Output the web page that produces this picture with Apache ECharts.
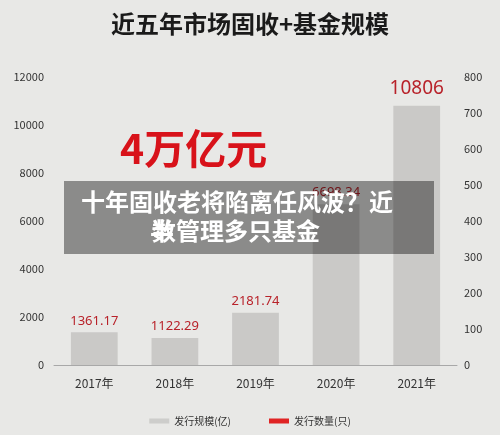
<!DOCTYPE html>
<html>
<head>
<meta charset="utf-8">
<script src="https://cdn.jsdelivr.net/npm/echarts@6/dist/echarts.min.js"></script>
<style>
html,body{margin:0;padding:0;background:#e8e8e6;}
#c{width:500px;height:435px;}
</style>
</head>
<body>
<div id="c"></div>
<script>
const titleText = '近五年市场固收+基金规模';
const categories = ['2017年', '2018年', '2019年', '2020年', '2021年'];
const scaleValues = [1361.17, 1122.29, 2181.74, 6698.34, 10806];
const countValues = [];
const seriesNames = ['发行规模(亿)', '发行数量(只)'];
const bigNote = '4万亿元';
const overlayLine1 = '十年固收老将陷离任风波？近';
const overlayLine2a = '半';
const overlayLine2b = '数';
const overlayLine2c = '管理多只基金';

const FONT = '"Noto Sans CJK SC", "Noto Sans", sans-serif';
const chart = echarts.init(document.getElementById('c'), null, {renderer: 'canvas'});

const barData = scaleValues.map((v, i) => {
  if (i === scaleValues.length - 1) {
    return {value: v, label: {fontSize: 19, distance: 8}};
  }
  return v;
});

chart.setOption({
  backgroundColor: '#e8e8e6',
  animation: false,
  title: {
    text: titleText, left: 'center', top: 7,
    textStyle: {fontFamily: FONT, fontSize: 24, fontWeight: 'bold', color: '#1a1a1a'}
  },
  legend: {
    bottom: 4, left: 'center', itemGap: 38, itemWidth: 20, itemHeight: 5,
    icon: 'rect',
    textStyle: {fontFamily: FONT, fontSize: 10, color: '#333'},
    data: [
      {name: seriesNames[0], itemStyle: {color: '#cdcdcb'}},
      {name: seriesNames[1], itemStyle: {color: '#e02424'}}
    ]
  },
  grid: {left: 54, right: 43, top: 77, bottom: 70},
  xAxis: {
    type: 'category', data: categories,
    axisLine: {lineStyle: {color: '#a8a8a8', width: 1}},
    axisTick: {show: false},
    axisLabel: {fontFamily: FONT, fontSize: 12, color: '#333', margin: 12}
  },
  yAxis: [
    {
      type: 'value', min: 0, max: 12000, interval: 2000,
      splitLine: {show: false}, axisLine: {show: false}, axisTick: {show: false},
      axisLabel: {fontFamily: FONT, fontSize: 11, color: '#333', margin: 10, formatter: v => String(v)}
    },
    {
      type: 'value', min: 0, max: 800, interval: 100,
      splitLine: {show: false}, axisLine: {show: false}, axisTick: {show: false},
      axisLabel: {fontFamily: FONT, fontSize: 11, color: '#333', margin: 7}
    }
  ],
  series: [
    {
      name: seriesNames[0], type: 'bar', data: barData, barWidth: '58%',
      itemStyle: {color: '#cac9c7'},
      label: {
        show: true, position: 'top', distance: 5,
        fontFamily: 'Noto Sans, sans-serif', fontSize: 13, color: '#b8222a'
      }
    },
    {
      name: seriesNames[1], type: 'line', yAxisIndex: 1, data: countValues,
      itemStyle: {color: '#e02424'}, lineStyle: {color: '#e02424'}
    }
  ],
  graphic: [
    {
      type: 'text', left: 120, top: 128, z: 100,
      style: {text: bigNote, fill: '#d8121a', font: 'bold 41px ' + FONT}
    },
    {
      type: 'rect', z: 100,
      shape: {x: 64, y: 181, width: 370, height: 73},
      style: {fill: 'rgba(0,0,0,0.4)'}
    },
    {
      type: 'text', z: 101, x: 237, y: 202,
      style: {text: overlayLine1, fill: '#ffffff', font: 'bold 24px ' + FONT, align: 'center', verticalAlign: 'middle'}
    },
    {
      type: 'text', z: 101, x: 150, y: 231,
      style: {text: overlayLine2a, fill: '#ffffff', font: 'bold 24px ' + FONT, verticalAlign: 'middle'}
    },
    {
      type: 'text', z: 101, x: 152, y: 231,
      style: {text: overlayLine2b, fill: '#ffffff', font: 'bold 24px ' + FONT, verticalAlign: 'middle'}
    },
    {
      type: 'text', z: 101, x: 176, y: 231,
      style: {text: overlayLine2c, fill: '#ffffff', font: 'bold 24px ' + FONT, verticalAlign: 'middle'}
    }
  ]
});
</script>
</body>
</html>
